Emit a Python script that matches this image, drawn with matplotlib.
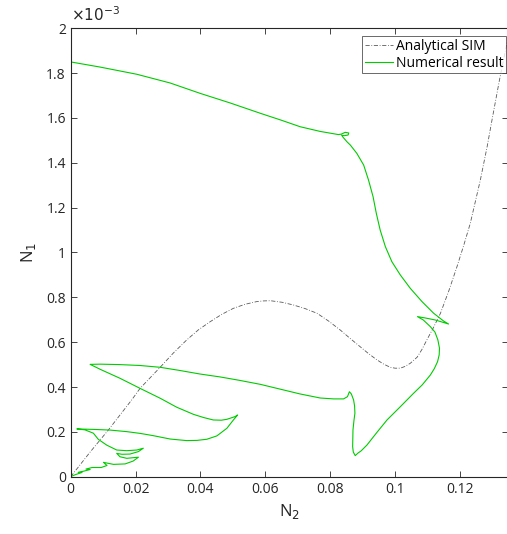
import matplotlib
matplotlib.use('Agg')
import matplotlib.pyplot as plt
import numpy as np

# analytical slow invariant manifold (N1 in units of 1e-3)
sim_n2 = [0.0, 0.0060, 0.0116, 0.0188, 0.0214, 0.0276, 0.0317, 0.0358, 0.0394, 0.0430,
          0.0466, 0.0502, 0.0538, 0.0574, 0.0595, 0.0616, 0.0652, 0.0687, 0.0723,
          0.0760, 0.0796, 0.0832, 0.0862, 0.0893, 0.0919, 0.0945, 0.0966, 0.0986,
          0.1001, 0.1017, 0.1032, 0.1048, 0.1069, 0.1084, 0.1099, 0.1120, 0.1141,
          0.1167, 0.1192, 0.1213, 0.1233, 0.1264, 0.1285, 0.1300, 0.1323, 0.1348]
sim_n1 = [0.0, 0.110, 0.208, 0.342, 0.394, 0.488, 0.552, 0.610, 0.655, 0.691,
          0.724, 0.751, 0.769, 0.781, 0.784, 0.785, 0.778, 0.766, 0.750,
          0.729, 0.694, 0.654, 0.617, 0.580, 0.549, 0.521, 0.502, 0.488,
          0.484, 0.484, 0.492, 0.506, 0.533, 0.568, 0.610, 0.667, 0.729,
          0.830, 0.937, 1.033, 1.130, 1.323, 1.472, 1.591, 1.769, 1.948]

# numerical trajectory (N1 in units of 1e-3)
num_n2 = [0.0, 0.0091, 0.0204, 0.0307, 0.0399, 0.0492, 0.0585, 0.0650, 0.0708, 0.0770, 0.0826,
          0.0835, 0.0847, 0.0858, 0.0856, 0.0844, 0.0836, 0.0841, 0.0853, 0.0863,
          0.0883, 0.0904, 0.0919, 0.0933, 0.0943, 0.0955, 0.0971, 0.0991, 0.1017,
          0.1048, 0.1084, 0.1120, 0.1151, 0.1166,
          0.1125, 0.1094, 0.1070, 0.1088, 0.1110, 0.1124, 0.1133, 0.1138, 0.1137, 0.1132,
          0.1122, 0.1110, 0.1085, 0.1058, 0.1017, 0.0976, 0.0944, 0.0914, 0.0896,
          0.0887, 0.0878, 0.0872, 0.0870, 0.0871, 0.0874, 0.0877, 0.0876, 0.0873,
          0.0866, 0.0860, 0.0854, 0.0842, 0.0811, 0.0770, 0.0708, 0.0645, 0.0585,
          0.0520, 0.0461, 0.0399, 0.0336, 0.0276, 0.0214, 0.0152, 0.0091, 0.0060,
          0.0091, 0.0152, 0.0214, 0.0276, 0.0327, 0.0379, 0.0410, 0.0440, 0.0465,
          0.0482, 0.0507, 0.0515,
          0.0502, 0.0482, 0.0451, 0.0420, 0.0390, 0.0358, 0.0307, 0.0255, 0.0215,
          0.0173, 0.0121, 0.0070, 0.0019,
          0.0044, 0.0070, 0.0085, 0.0111, 0.0142, 0.0173, 0.0204, 0.0224,
          0.0209, 0.0183, 0.0158, 0.0142,
          0.0152, 0.0173, 0.0209,
          0.0193, 0.0168, 0.0132, 0.0101,
          0.0112, 0.0094, 0.0066, 0.0047, 0.0060, 0.0041, 0.0023, 0.0035, 0.0016, 0.0004, 0.0]
num_n1 = [1.850, 1.827, 1.795, 1.756, 1.710, 1.667, 1.621, 1.590, 1.561, 1.540, 1.526,
          1.528, 1.536, 1.533, 1.524, 1.521, 1.523, 1.513, 1.493, 1.479,
          1.442, 1.390, 1.323, 1.249, 1.175, 1.100, 1.026, 0.959, 0.900,
          0.840, 0.781, 0.729, 0.694, 0.681,
          0.699, 0.708, 0.714, 0.699, 0.669, 0.645, 0.610, 0.573, 0.543, 0.513,
          0.482, 0.454, 0.410, 0.372, 0.312, 0.253, 0.196, 0.141, 0.115,
          0.106, 0.094, 0.110, 0.134, 0.208, 0.250, 0.283, 0.315, 0.342,
          0.369, 0.379, 0.357, 0.347, 0.347, 0.351, 0.369, 0.391, 0.412,
          0.430, 0.445, 0.458, 0.474, 0.488, 0.496, 0.500, 0.502, 0.501,
          0.479, 0.439, 0.394, 0.350, 0.310, 0.278, 0.264, 0.253, 0.252,
          0.256, 0.268, 0.275,
          0.253, 0.216, 0.182, 0.167, 0.162, 0.161, 0.168, 0.183, 0.193,
          0.201, 0.208, 0.211, 0.213,
          0.209, 0.194, 0.167, 0.141, 0.119, 0.116, 0.119, 0.127,
          0.112, 0.101, 0.100, 0.104,
          0.089, 0.082, 0.087,
          0.070, 0.057, 0.055, 0.064,
          0.050, 0.041, 0.041, 0.034, 0.032, 0.025, 0.019, 0.019, 0.010, 0.003, 0.0]

yticks = [0, 0.2, 0.4, 0.6, 0.8, 1, 1.2, 1.4, 1.6, 1.8, 2]
xticks = [0, 0.02, 0.04, 0.06, 0.08, 0.1, 0.12]

plt.rcParams['font.family'] = ['Open Sans', 'DejaVu Sans']
txt = '#262626'

fig = plt.figure(figsize=(5.07, 5.34), dpi=100)
ax = fig.add_axes([70.7 / 507, 57.3 / 534, 437.5 / 507, 448.4 / 534])

scale = 1e-3
ax.plot(sim_n2, np.array(sim_n1) * scale, color='#5a5a5a', lw=0.6,
        dashes=(5, 2, 1, 2), label='Analytical SIM')
ax.plot(num_n2, np.array(num_n1) * scale, color='#00cc00', lw=0.8,
        solid_joinstyle='round', label='Numerical result')

ax.set_xlim(0, 0.135)
ax.set_ylim(0, 2e-3)
ax.set_xticks(xticks)
ax.set_xticklabels([f'{v:g}' for v in xticks])
ax.set_yticks([v * scale for v in yticks])
ax.set_yticklabels([f'{v:g}' for v in yticks])
ax.tick_params(direction='in', length=4, width=0.6, colors=txt, labelsize=10,
               top=True, right=True)
for s in ax.spines.values():
    s.set_linewidth(0.8)
    s.set_color(txt)

ax.text(0.0, 1.01, r'$\times 10^{-3}$', transform=ax.transAxes, fontsize=11,
        color=txt, ha='left', va='bottom', family='DejaVu Sans')
ax.set_xlabel(r'N$_2$', fontsize=12, color=txt, labelpad=4)
ax.set_ylabel(r'N$_1$', fontsize=12, color=txt, labelpad=6)

leg = ax.legend(loc='upper right', bbox_to_anchor=(0.995, 0.982), fontsize=10,
                frameon=True, fancybox=False, handlelength=2.0, handletextpad=0.2,
                borderpad=0.2, labelspacing=0.1, borderaxespad=0.0)
leg.get_frame().set_edgecolor(txt)
leg.get_frame().set_linewidth(0.6)

fig.savefig('out.png', dpi=100)
